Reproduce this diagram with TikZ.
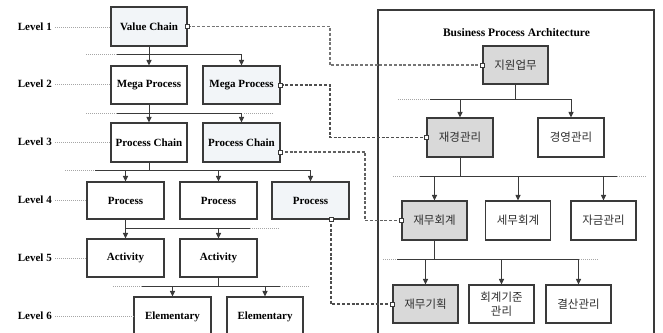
\documentclass[tikz,border=0pt]{standalone}
\usepackage{fontspec}
\setmainfont{Liberation Serif}
\newfontfamily\kr{Noto Sans CJK KR}
\usetikzlibrary{arrows.meta,calc}
\definecolor{lightfill}{HTML}{F2F5F8}
\definecolor{grayfill}{HTML}{D9D9D9}
\definecolor{edge}{HTML}{3A3A3A}
\definecolor{krtext}{HTML}{303030}
\tikzset{
  lbox/.style={draw=edge, line width=1.1pt, fill=white, minimum width=76pt, minimum height=38pt, inner sep=1pt, font=\fontsize{11}{12}\selectfont\bfseries},
  rbox/.style={draw=edge, line width=1.1pt, fill=white, minimum width=65pt, minimum height=38pt, inner sep=1pt, align=center, font=\fontsize{11.5}{14}\selectfont\kr, text=krtext},
  lvl/.style={anchor=east, inner sep=0pt, font=\fontsize{11}{12}\selectfont\bfseries},
  conn/.style={draw=edge, line width=1pt},
  arr/.style={draw=edge, line width=1pt, -{Triangle[length=5.5pt,width=5pt]}},
  dots/.style={draw=gray!70, line width=0.7pt, dash pattern=on 1pt off 1pt},
  dsh/.style={draw=edge!90, line width=1.2pt, dash pattern=on 3pt off 1.8pt},
  port/.style={draw=edge, fill=white, line width=0.7pt, minimum size=4pt, inner sep=0pt}
}
\begin{document}
\begin{tikzpicture}[x=1pt,y=-1pt]
\useasboundingbox (0,0) rectangle (663,332);
% ---------- left hierarchy ----------
\node[lbox, fill=lightfill, minimum height=39pt] (vc) at (149,26.5) {Value Chain};
\node[lbox] (mp1) at (149,85) {Mega Process};
\node[lbox, fill=lightfill, minimum width=77pt] (mp2) at (241.5,85) {Mega Process};
\node[lbox, minimum height=39pt] (pc1) at (149,142.5) {Process Chain};
\node[lbox, fill=lightfill, minimum width=77pt, minimum height=39pt] (pc2) at (241.5,142.5) {Process Chain};
\node[lbox, minimum width=77pt, minimum height=37pt] (p1) at (125.5,200.5) {Process};
\node[lbox, minimum width=77pt, minimum height=37pt] (p2) at (218.5,200.5) {Process};
\node[lbox, fill=lightfill, minimum width=77pt, minimum height=37pt] (p3) at (310.5,200.5) {Process};
\node[lbox, minimum width=77pt] (a1) at (125.5,258) {Activity};
\node[lbox, minimum width=77pt] (a2) at (218.5,258) {Activity};
\node[lbox, minimum width=77pt, minimum height=39pt] (e1) at (172.5,316.5) {Elementary};
\node[lbox, minimum width=76pt, minimum height=39pt] (e2) at (265,316.5) {Elementary};
% level labels
\node[lvl] (l1) at (52,27) {Level 1};
\node[lvl] (l2) at (52,84) {Level 2};
\node[lvl] (l3) at (52,142) {Level 3};
\node[lvl] (l4) at (52,200) {Level 4};
\node[lvl] (l5) at (52,258) {Level 5};
\node[lvl] (l6) at (52,316) {Level 6};
\draw[dots] (l1.east)+(3,0) -- (vc.west |- l1.east);
\draw[dots] (l2.east)+(3,0) -- (mp1.west |- l2.east);
\draw[dots] (l3.east)+(3,0) -- (pc1.west |- l3.east);
\draw[dots] (l4.east)+(3,0) -- (p1.west |- l4.east);
\draw[dots] (l5.east)+(3,0) -- (a1.west |- l5.east);
\draw[dots] (l6.east)+(3,0) -- (e1.west |- l6.east);
% level 1 -> 2
\coordinate (j1) at (149,54);
\draw[arr] (vc.south) -- (mp1.north);
\draw[conn] (117,54) -- (j1 -| mp2.north);
\draw[arr] (j1 -| mp2.north) -- (mp2.north);
\draw[dots] (86,54) -- (117,54);
% level 2 -> 3
\coordinate (j2) at (149,113);
\draw[arr] (mp1.south) -- (pc1.north);
\draw[conn] (117,113) -- (j2 -| pc2.north);
\draw[arr] (j2 -| pc2.north) -- (pc2.north);
\draw[dots] (86,113) -- (117,113);
\draw[dots] (244,113) -- (273,113);
% level 3 -> 4
\coordinate (j3) at (149,170);
\draw[conn] (pc1.south) -- (j3);
\draw[conn] (95,170) -- (j3 -| p3.north);
\draw[dots] (65,170) -- (95,170);
\draw[arr] (j3 -| p1.north) -- (p1.north);
\draw[arr] (j3 -| p2.north) -- (p2.north);
\draw[arr] (j3 -| p3.north) -- (p3.north);
% level 4 -> 5
\coordinate (j4) at (125.5,228);
\draw[arr] (p1.south) -- (a1.north);
\draw[conn] (j4) -- (250,228);
\draw[dots] (250,228) -- (280,228);
\draw[arr] (j4 -| a2.north) -- (a2.north);
% level 5 -> 6
\coordinate (j5) at (218.5,286);
\draw[conn] (a2.south) -- (j5);
\draw[conn] (142,286) -- (280,286);
\draw[dots] (113,286) -- (142,286);
\draw[dots] (280,286) -- (310,286);
\draw[arr] (j5 -| e1.north) -- (e1.north);
\draw[arr] (j5 -| e2.north) -- (e2.north);
% ---------- right: Business Process Architecture ----------
\draw[draw=edge, line width=1.1pt] (378,340) -- (378,10) -- (654,10) -- (654,340);
\node[font=\fontsize{11.5}{13}\selectfont\bfseries] (title) at (516.5,33) {Business Process Architecture};
\node[rbox, fill=grayfill] (r1) at (515.5,65) {지원업무};
\node[rbox, fill=grayfill, minimum width=66pt, minimum height=39pt] (r2) at (460,137.5) {재경관리};
\node[rbox, minimum width=66pt, minimum height=39pt] (r3) at (571,137.5) {경영관리};
\node[rbox, fill=grayfill, minimum height=39pt] (r4) at (434.5,220.5) {재무회계};
\node[rbox, minimum height=39pt] (r5) at (518,220.5) {세무회계};
\node[rbox, minimum height=39pt] (r6) at (603.5,220.5) {자금관리};
\node[rbox, fill=grayfill] (r7) at (425.5,304) {재무기획};
\node[rbox] (r8) at (501.5,304) {회계기준\\관리};
\node[rbox] (r9) at (578.5,304) {결산관리};
% r1 -> r2, r3
\coordinate (k1) at (515.5,99);
\draw[conn] (r1.south) -- (k1);
\draw[conn] (430,99) -- (k1 -| r3.north);
\draw[dots] (398,99) -- (430,99);
\draw[arr] (k1 -| r2.north) -- (r2.north);
\draw[arr] (k1 -| r3.north) -- (r3.north);
% r2 -> r4, r5, r6
\coordinate (k2) at (460,176);
\draw[conn] (r2.south) -- (k2);
\draw[conn] (420,176) -- (617,176);
\draw[dots] (393,176) -- (420,176);
\draw[dots] (617,176) -- (647,176);
\draw[arr] (k2 -| r4.north) -- (r4.north);
\draw[arr] (k2 -| r5.north) -- (r5.north);
\draw[arr] (k2 -| r6.north) -- (r6.north);
% r4 -> r7, r8, r9
\coordinate (k3) at (434.5,259);
\draw[conn] (r4.south) -- (k3);
\draw[conn] (397,259) -- (k3 -| r9.north);
\draw[dots] (383,259) -- (397,259);
\draw[dots] (579,259) -- (598,259);
\draw[arr] (k3 -| r7.north) -- (r7.north);
\draw[arr] (k3 -| r8.north) -- (r8.north);
\draw[arr] (k3 -| r9.north) -- (r9.north);
% ---------- dashed mappings ----------
\coordinate (pc2p) at (280,152);
\coordinate (p3p) at (331,219);
\draw[dsh, draw=edge!70] (vc.east) -- (330,26.5) -- (330,65) -- (r1.west);
\draw[dsh] (mp2.east) -- (330,85) -- (330,137.5) -- (r2.west);
\draw[dsh, draw=edge!80] (pc2p) -- (365,152) -- (365,220.5) -- (r4.west);
\draw[dsh] (p3p) -- (331,304) -- (r7.west);
\foreach \p in {vc.east, mp2.east, pc2p, p3p, r1.west, r2.west, r4.west, r7.west}
  \node[port] at (\p) {};
\end{tikzpicture}
\end{document}
